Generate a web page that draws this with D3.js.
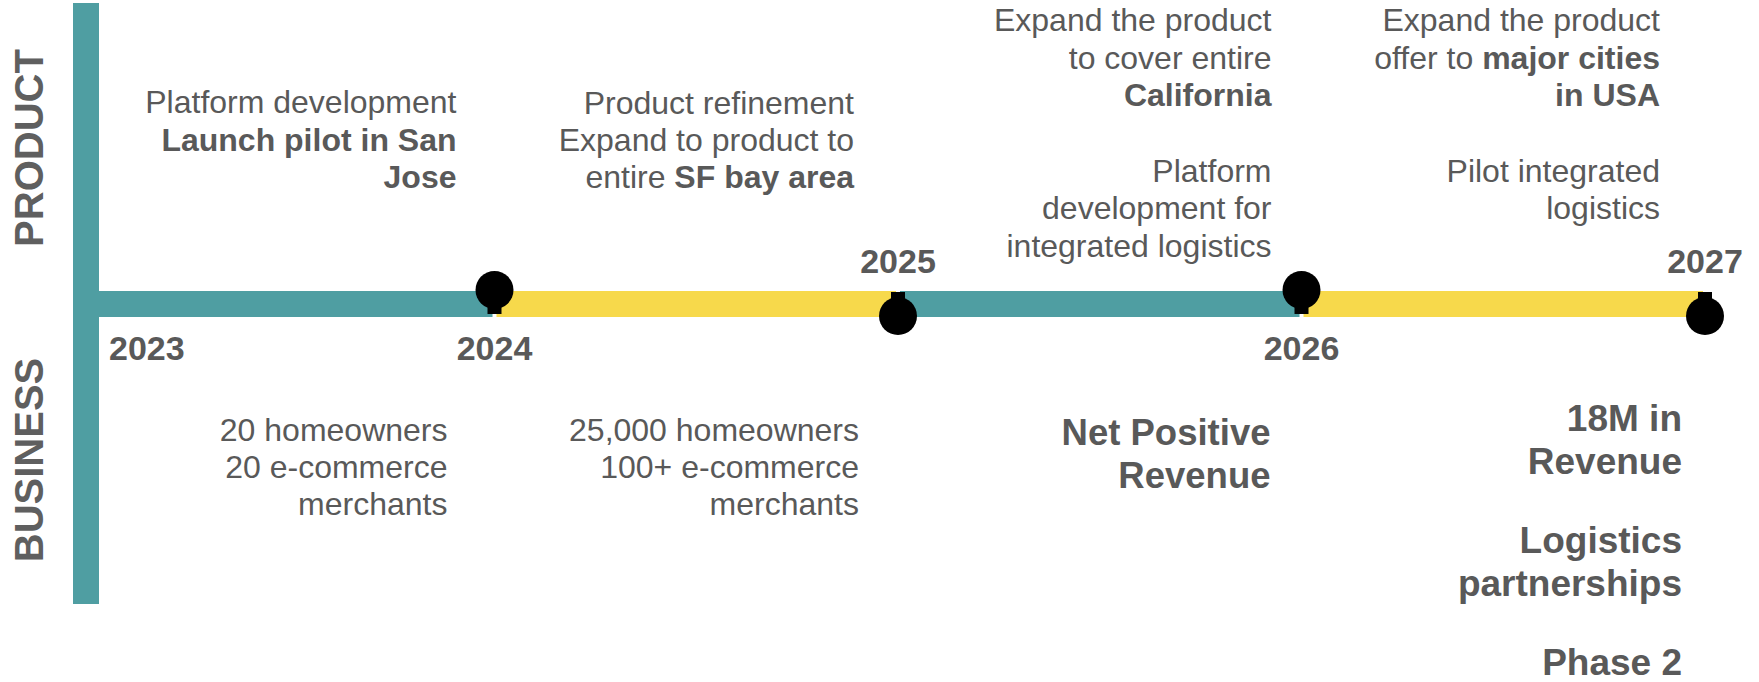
<!DOCTYPE html>
<html lang="en">
<head>
<meta charset="UTF-8">
<title>Roadmap</title>
<style>
  body { margin: 0; background: #fff; }
  text { font-family: "Liberation Sans", Arial, sans-serif; fill: #595959; }
  .side { font-size: 40px; font-weight: bold; fill: #5f5f5f; }
  .year { font-size: 34px; font-weight: bold; }
</style>
</head>
<body>
<div id="chart"></div>
<script src="https://cdnjs.cloudflare.com/ajax/libs/d3/7.8.5/d3.min.js"></script>
<script>
// data
var years = [2023, 2024, 2025, 2026, 2027];
var sideLabels = ["PRODUCT", "BUSINESS"];
var noteYears = [2024, 2025, 2026, 2027];

// "**" marks bold text, "" is a paragraph break
var productNotes = [
  ["Platform development", "**Launch pilot in San**", "**Jose**"],
  ["Product refinement", "Expand to product to", "entire **SF bay area**"],
  ["Expand the product", "to cover entire", "**California**", "", "Platform", "development for", "integrated logistics"],
  ["Expand the product", "offer to **major cities**", "**in USA**", "", "Pilot integrated", "logistics"]
];
var businessNotes = [
  ["20 homeowners", "20 e-commerce", "merchants"],
  ["25,000 homeowners", "100+ e-commerce", "merchants"],
  ["**Net Positive**", "**Revenue**"],
  ["**18M in**", "**Revenue**", "", "**Logistics**", "**partnerships**", "", "**Phase 2**"]
];

// layout
var width = 1759, height = 682;
var teal = "#4f9ea2", yellow = "#f7d94b";
var barTop = 291, barH = 26;
var productLayout = [
  {dx: -38, y: 113, lh: 37.5, size: 32, gap: 37.5},
  {dx: -44, y: 114, lh: 37, size: 32, gap: 37.5},
  {dx: -30, y: 31, lh: 37.5, size: 32, gap: 38},
  {dx: -45, y: 31, lh: 37.5, size: 32, gap: 38}
];
var businessLayout = [
  {dx: -47, y: 441, lh: 37, size: 32, gap: 37},
  {dx: -39, y: 441, lh: 37, size: 32, gap: 37},
  {dx: -31, y: 445, lh: 43, size: 36.5, gap: 43},
  {dx: -23, y: 431, lh: 43, size: 37, gap: 36}
];

var svg = d3.select("#chart").append("svg")
    .attr("width", width)
    .attr("height", height);

var x = d3.scaleLinear()
    .domain(d3.extent(years))
    .range([91, 1705]);

// vertical spine
svg.append("rect")
    .attr("x", 73).attr("y", 3)
    .attr("width", 26).attr("height", 601)
    .attr("fill", teal);

// timeline segments
var segs = d3.pairs(years);
svg.selectAll("rect.seg")
  .data(segs)
  .enter().append("rect")
    .attr("class", "seg")
    .attr("x", function (d, i) { return i == 0 ? 73 : x(d[0]) + 2; })
    .attr("y", barTop)
    .attr("width", function (d, i) { return x(d[1]) - 2 - (i == 0 ? 73 : x(d[0]) + 2); })
    .attr("height", barH)
    .attr("fill", function (d, i) { return i % 2 == 0 ? teal : yellow; });

// side labels
svg.selectAll("text.side")
  .data(sideLabels)
  .enter().append("text")
    .attr("class", "side")
    .attr("text-anchor", "middle")
    .attr("transform", function (d, i) { return "translate(43," + (i == 0 ? 148 : 460) + ") rotate(-90)"; })
    .text(function (d) { return d; });

// pins
var pins = years.slice(1);
var pin = svg.selectAll("g.pin")
  .data(pins)
  .enter().append("g")
    .attr("class", "pin");

pin.each(function (d, i) {
  var g = d3.select(this);
  var above = i % 2 == 0;
  var cy = above ? barTop - 1 : barTop + barH - 1;
  var tabY = above ? cy : barTop + 1;
  var tabH = above ? (barTop + barH - 3) - cy : cy - (barTop + 1);
  g.append("rect")
      .attr("x", x(d) - 7).attr("y", tabY)
      .attr("width", 14).attr("height", tabH)
      .attr("fill", "#000");
  g.append("circle")
      .attr("cx", x(d)).attr("cy", cy)
      .attr("r", 19)
      .attr("fill", "#000");
});

// year labels
svg.selectAll("text.year")
  .data(years)
  .enter().append("text")
    .attr("class", "year")
    .attr("x", function (d, i) { return i == 0 ? x(d) + 18 : x(d); })
    .attr("y", function (d, i) { return (i == 0 || i % 2 == 1) ? 360 : 273; })
    .attr("text-anchor", function (d, i) { return i == 0 ? "start" : "middle"; })
    .text(function (d) { return d; });

// notes
function drawNotes(notes, layout, cls) {
  notes.forEach(function (lines, i) {
    var L = layout[i];
    var g = svg.append("text")
        .attr("class", cls)
        .attr("text-anchor", "end")
        .style("font-size", L.size + "px");
    var y = L.y;
    lines.forEach(function (line) {
      if (line === "") { y += L.gap; return; }
      var parts = line.split("**");
      var first = true;
      parts.forEach(function (p, k) {
        if (p === "") return;
        var t = g.append("tspan")
            .attr("font-weight", k % 2 == 1 ? "bold" : "normal")
            .text(p);
        if (first) {
          t.attr("x", x(noteYears[i]) + L.dx).attr("y", y);
          first = false;
        }
      });
      y += L.lh;
    });
  });
}

drawNotes(productNotes, productLayout, "product");
drawNotes(businessNotes, businessLayout, "business");
</script>
</body>
</html>
